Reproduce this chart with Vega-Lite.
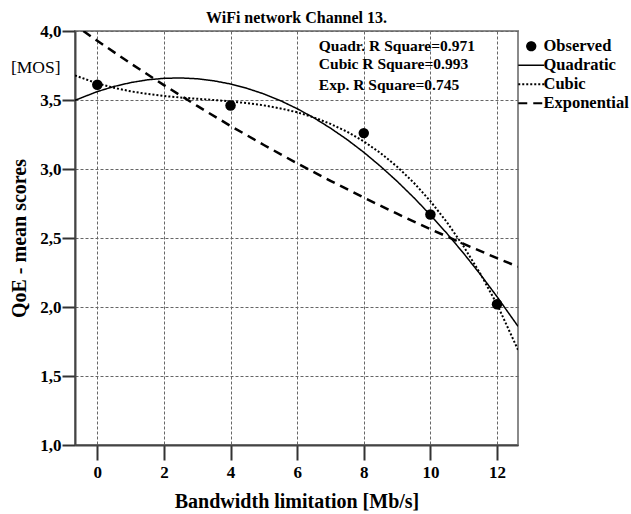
{
  "$schema": "https://vega.github.io/schema/vega-lite/v6.json",
  "autosize": "none",
  "width": 443,
  "height": 414,
  "padding": {"left": 75, "top": 31, "right": 113, "bottom": 69},
  "background": "white",
  "title": {"text": "WiFi network Channel 13.", "font": "Liberation Serif", "fontSize": 16, "fontWeight": "bold", "color": "black", "offset": -4, "anchor": "middle"},
  "config": {
    "view": {"stroke": "#8a8a8a", "strokeWidth": 2},
    "axis": {"gridDash": [3, 2], "gridColor": "#666", "gridWidth": 1, "gridOpacity": 1, "domainColor": "#444", "domainWidth": 2, "tickColor": "#333", "tickWidth": 2, "labelFont": "Liberation Serif", "labelFontWeight": "bold", "labelFontSize": 17, "labelColor": "black", "titleFont": "Liberation Serif", "titleFontWeight": "bold", "titleFontSize": 20, "titleColor": "black"}
  },
  "datasets": {
    "obs": [
      {"x": 0, "y": 3.61},
      {"x": 4, "y": 3.46},
      {"x": 8, "y": 3.26},
      {"x": 10, "y": 2.67},
      {"x": 12, "y": 2.02}
    ],
    "fits": [
      {"model": "Quadratic", "x": -0.67, "y": 3.498},
      {"model": "Quadratic", "x": 0, "y": 3.561},
      {"model": "Quadratic", "x": 0.5, "y": 3.598},
      {"model": "Quadratic", "x": 1, "y": 3.626},
      {"model": "Quadratic", "x": 1.5, "y": 3.646},
      {"model": "Quadratic", "x": 2, "y": 3.657},
      {"model": "Quadratic", "x": 2.5, "y": 3.66},
      {"model": "Quadratic", "x": 3, "y": 3.654},
      {"model": "Quadratic", "x": 3.5, "y": 3.639},
      {"model": "Quadratic", "x": 4, "y": 3.616},
      {"model": "Quadratic", "x": 4.5, "y": 3.584},
      {"model": "Quadratic", "x": 5, "y": 3.544},
      {"model": "Quadratic", "x": 5.5, "y": 3.495},
      {"model": "Quadratic", "x": 6, "y": 3.437},
      {"model": "Quadratic", "x": 6.5, "y": 3.371},
      {"model": "Quadratic", "x": 7, "y": 3.296},
      {"model": "Quadratic", "x": 7.5, "y": 3.213},
      {"model": "Quadratic", "x": 8, "y": 3.121},
      {"model": "Quadratic", "x": 8.5, "y": 3.02},
      {"model": "Quadratic", "x": 9, "y": 2.911},
      {"model": "Quadratic", "x": 9.5, "y": 2.793},
      {"model": "Quadratic", "x": 10, "y": 2.667},
      {"model": "Quadratic", "x": 10.5, "y": 2.532},
      {"model": "Quadratic", "x": 11, "y": 2.388},
      {"model": "Quadratic", "x": 11.5, "y": 2.236},
      {"model": "Quadratic", "x": 12, "y": 2.075},
      {"model": "Quadratic", "x": 12.63, "y": 1.86},
      {"model": "Cubic", "x": -0.67, "y": 3.678},
      {"model": "Cubic", "x": 0, "y": 3.62},
      {"model": "Cubic", "x": 0.5, "y": 3.588},
      {"model": "Cubic", "x": 1, "y": 3.563},
      {"model": "Cubic", "x": 1.5, "y": 3.544},
      {"model": "Cubic", "x": 2, "y": 3.529},
      {"model": "Cubic", "x": 2.5, "y": 3.518},
      {"model": "Cubic", "x": 3, "y": 3.509},
      {"model": "Cubic", "x": 3.5, "y": 3.5},
      {"model": "Cubic", "x": 4, "y": 3.49},
      {"model": "Cubic", "x": 4.5, "y": 3.477},
      {"model": "Cubic", "x": 5, "y": 3.461},
      {"model": "Cubic", "x": 5.5, "y": 3.439},
      {"model": "Cubic", "x": 6, "y": 3.411},
      {"model": "Cubic", "x": 6.5, "y": 3.374},
      {"model": "Cubic", "x": 7, "y": 3.327},
      {"model": "Cubic", "x": 7.5, "y": 3.27},
      {"model": "Cubic", "x": 8, "y": 3.2},
      {"model": "Cubic", "x": 8.5, "y": 3.116},
      {"model": "Cubic", "x": 9, "y": 3.017},
      {"model": "Cubic", "x": 9.5, "y": 2.901},
      {"model": "Cubic", "x": 10, "y": 2.767},
      {"model": "Cubic", "x": 10.5, "y": 2.613},
      {"model": "Cubic", "x": 11, "y": 2.438},
      {"model": "Cubic", "x": 11.5, "y": 2.241},
      {"model": "Cubic", "x": 12, "y": 2.02},
      {"model": "Cubic", "x": 12.63, "y": 1.69},
      {"model": "Exponential", "x": -0.42, "y": 4.0},
      {"model": "Exponential", "x": 0, "y": 3.929},
      {"model": "Exponential", "x": 1, "y": 3.765},
      {"model": "Exponential", "x": 2, "y": 3.608},
      {"model": "Exponential", "x": 3, "y": 3.457},
      {"model": "Exponential", "x": 4, "y": 3.312},
      {"model": "Exponential", "x": 5, "y": 3.174},
      {"model": "Exponential", "x": 6, "y": 3.041},
      {"model": "Exponential", "x": 7, "y": 2.914},
      {"model": "Exponential", "x": 8, "y": 2.793},
      {"model": "Exponential", "x": 9, "y": 2.676},
      {"model": "Exponential", "x": 10, "y": 2.564},
      {"model": "Exponential", "x": 11, "y": 2.457},
      {"model": "Exponential", "x": 12, "y": 2.354},
      {"model": "Exponential", "x": 12.63, "y": 2.292}
    ],
    "notes": [
      {"x": 6.65, "y": 3.888, "label": "Quadr. R Square=0.971"},
      {"x": 6.65, "y": 3.763, "label": "Cubic R Square=0.993"},
      {"x": 6.65, "y": 3.61, "label": "Exp. R Square=0.745"}
    ]
  },
  "resolve": {"axis": {"y": "independent", "x": "shared"}},
  "layer": [
    {
      "data": {"name": "fits"},
      "mark": {"type": "line", "color": "black", "clip": true},
      "encoding": {
        "x": {"field": "x", "type": "quantitative", "scale": {"domain": [-0.67, 12.63], "nice": false, "zero": false},
              "axis": {"values": [0, 2, 4, 6, 8, 10, 12], "title": "Bandwidth limitation [Mb/s]", "tickSize": 15, "labelPadding": 4, "titlePadding": 11, "grid": true}},
        "y": {"field": "y", "type": "quantitative", "scale": {"domain": [1, 4], "nice": false, "zero": false},
              "axis": {"orient": "left", "values": [1, 1.5, 2, 2.5, 3, 3.5, 4], "labelExpr": "replace(format(datum.value, '.1f'), '.', ',')", "title": "QoE - mean scores", "tickSize": 13, "labelPadding": 1, "titlePadding": 10, "grid": true}},
        "detail": {"field": "model"},
        "strokeDash": {"field": "model", "type": "nominal",
                       "scale": {"domain": ["Observed", "Quadratic", "Cubic", "Exponential"], "range": [[1, 0], [1, 0], [2, 2], [9, 6]]},
                       "legend": {"orient": "none", "legendX": 448, "legendY": 7, "title": null, "padding": 0,
                                  "symbolType": "stroke", "symbolSize": 676, "symbolStrokeColor": "black", "symbolStrokeWidth": 1.5,
                                  "labelFont": "Liberation Serif", "labelFontWeight": "bold", "labelFontSize": 16.5, "labelColor": "black",
                                  "labelOffset": 4, "rowPadding": 2,
                                  "encode": {"symbols": {"update": {
                                    "shape": {"signal": "datum.value === 'Observed' ? 'circle' : 'stroke'"},
                                    "size": {"signal": "datum.value === 'Observed' ? 80 : 676"},
                                    "fill": {"signal": "datum.value === 'Observed' ? 'black' : 'transparent'"},
                                    "stroke": {"value": "black"},
                                    "strokeWidth": {"signal": "datum.value === 'Cubic' ? 2 : datum.value === 'Exponential' ? 2 : 1.3"}
                                  }}}}},
        "strokeWidth": {"field": "model", "type": "nominal",
                        "scale": {"domain": ["Quadratic", "Cubic", "Exponential"], "range": [1.5, 2.5, 2]}, "legend": null}
      }
    },
    {
      "data": {"name": "obs"},
      "mark": {"type": "point", "filled": true, "color": "black", "opacity": 1, "size": 110},
      "encoding": {
        "x": {"field": "x", "type": "quantitative"},
        "y": {"field": "y", "type": "quantitative", "axis": null}
      }
    },
    {
      "data": {"name": "notes"},
      "mark": {"type": "text", "align": "left", "baseline": "middle", "font": "Liberation Serif", "fontWeight": "bold", "fontSize": 15.5, "color": "black"},
      "encoding": {
        "x": {"field": "x", "type": "quantitative"},
        "y": {"field": "y", "type": "quantitative",
              "axis": {"orient": "left", "values": [3.735], "labelExpr": "'[MOS]'", "ticks": false, "tickSize": 0, "domain": false, "grid": false, "labelPadding": 15, "labelFontWeight": "normal", "labelFontSize": 17.5, "title": null}},
        "text": {"field": "label"}
      }
    }
  ]
}
